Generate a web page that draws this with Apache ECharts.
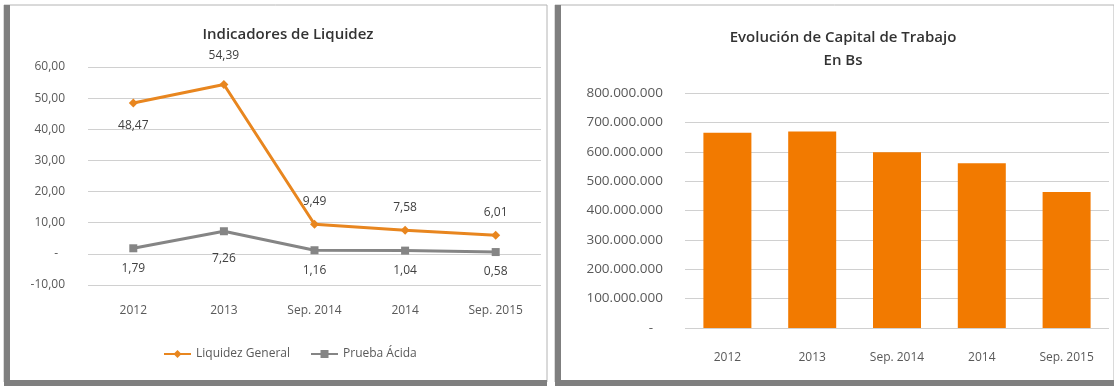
<!DOCTYPE html>
<html>
<head>
<meta charset="utf-8">
<script src="https://cdn.jsdelivr.net/npm/echarts@6/dist/echarts.min.js"></script>
<style>
  html, body { margin: 0; padding: 0; background: #ffffff; }
  #chart { width: 1114px; height: 386px; }
</style>
</head>
<body>
<div id="chart"></div>
<script>
// Categories shared by both panels
const categories = ['2012', '2013', 'Sep. 2014', '2014', 'Sep. 2015'];

// Liquidity ratios
const liquidezGeneral = [48.47, 54.39, 9.49, 7.58, 6.01];
const pruebaAcida = [1.79, 7.26, 1.16, 1.04, 0.58];

// Working capital in Bs
const capitalTrabajo = [665000000, 669000000, 598000000, 561000000, 463000000];

// Axis ranges
const liquidezAxis = { min: -10, max: 60, step: 10 };
const capitalAxis = { min: 0, max: 800000000, step: 100000000 };

const AXIS_TEXT = '#595959';
const LABEL_TEXT = '#404040';
const GRID_LINE = '#d0d0d0';
const FONT = '"Open Sans", "Liberation Sans", sans-serif';

const fmtDecimal = v => v.toFixed(2).replace('.', ',');
const fmtThousands = v => String(Math.round(v)).replace(/\B(?=(\d{3})+(?!\d))/g, '.');

const chart = echarts.init(document.getElementById('chart'), null, { renderer: 'canvas' });

const panelFrame = (x, w) => [
  { type: 'rect', z: -10, shape: { x: x, y: 5, width: w, height: 377 },
    style: { fill: '#ffffff', stroke: '#b4b4b4', lineWidth: 1 } },
  { type: 'rect', z: -9, shape: { x: x, y: 5, width: 6, height: 381 },
    style: { fill: '#7f7f7f' } },
  { type: 'rect', z: -9, shape: { x: x, y: 380, width: w, height: 6 },
    style: { fill: '#7f7f7f' } }
];

const option = {
  animation: false,
  backgroundColor: '#ffffff',
  textStyle: { fontFamily: FONT },
  graphic: { elements: [...panelFrame(4, 543), ...panelFrame(555, 559)] },
  title: [
    {
      text: 'Indicadores de Liquidez',
      left: 283, top: 22, textAlign: 'center',
      textStyle: { fontFamily: FONT, fontSize: 15, fontWeight: 600, color: '#333333' }
    },
    {
      text: 'Evolución de Capital de Trabajo\nEn Bs',
      left: 838, top: 21, textAlign: 'center',
      textStyle: { fontFamily: FONT, fontSize: 15, fontWeight: 600, color: '#333333', lineHeight: 23 }
    }
  ],
  legend: {
    data: ['Liquidez General', 'Prueba Ácida'],
    left: 158, top: 343,
    itemWidth: 27, itemHeight: 10, itemGap: 20,
    textStyle: { fontFamily: FONT, fontSize: 12, color: AXIS_TEXT }
  },
  grid: [
    { left: 88, top: 67, width: 453, height: 218 },
    { left: 685, top: 93, width: 424, height: 235 }
  ],
  xAxis: [
    {
      gridIndex: 0, type: 'category', data: categories, boundaryGap: true,
      axisLine: { show: false, onZero: false }, axisTick: { show: false },
      axisLabel: { margin: 20, color: AXIS_TEXT, fontSize: 12, fontFamily: FONT }
    },
    {
      gridIndex: 1, type: 'category', data: categories, boundaryGap: true,
      axisLine: { show: false }, axisTick: { show: false },
      axisLabel: { margin: 24, color: AXIS_TEXT, fontSize: 12, fontFamily: FONT }
    }
  ],
  yAxis: [
    {
      gridIndex: 0, type: 'value',
      min: liquidezAxis.min, max: liquidezAxis.max, interval: liquidezAxis.step,
      axisLine: { show: false }, axisTick: { show: false },
      splitLine: { lineStyle: { color: GRID_LINE, width: 1 } },
      axisLabel: {
        margin: 23, color: AXIS_TEXT, fontSize: 12, fontFamily: FONT,
        formatter: v => (v === 0 ? '-\u2007' : fmtDecimal(v))
      }
    },
    {
      gridIndex: 1, type: 'value',
      min: capitalAxis.min, max: capitalAxis.max, interval: capitalAxis.step,
      axisLine: { show: false }, axisTick: { show: false },
      splitLine: { lineStyle: { color: GRID_LINE, width: 1 } },
      axisLabel: {
        margin: 22, color: AXIS_TEXT, fontSize: 13.5, fontFamily: FONT,
        formatter: v => (v === 0 ? '-\u2007\u2009' : fmtThousands(v))
      }
    }
  ],
  series: [
    {
      name: 'Liquidez General', type: 'line', xAxisIndex: 0, yAxisIndex: 0,
      data: liquidezGeneral.map((v, i) => ({
        value: v,
        label: { position: i === 0 ? 'bottom' : 'top', distance: v === Math.max(...liquidezGeneral) ? 18 : 12 }
      })),
      symbol: 'diamond', symbolSize: 9,
      lineStyle: { color: '#E8861F', width: 3 },
      itemStyle: { color: '#E8861F' },
      label: {
        show: true, color: LABEL_TEXT, fontSize: 12, fontFamily: FONT,
        formatter: p => fmtDecimal(p.value)
      },
      z: 3
    },
    {
      name: 'Prueba Ácida', type: 'line', xAxisIndex: 0, yAxisIndex: 0,
      data: pruebaAcida.map(v => ({
        value: v,
        label: { distance: v === Math.max(...pruebaAcida) ? 17 : 10 }
      })),
      symbol: 'rect', symbolSize: 8,
      lineStyle: { color: '#858585', width: 3 },
      itemStyle: { color: '#858585' },
      label: {
        show: true, position: 'bottom', color: LABEL_TEXT, fontSize: 12, fontFamily: FONT,
        formatter: p => fmtDecimal(p.value)
      },
      z: 3
    },
    {
      name: 'Capital de Trabajo', type: 'bar', xAxisIndex: 1, yAxisIndex: 1,
      data: capitalTrabajo,
      barWidth: 48,
      itemStyle: { color: '#F27A00' }
    }
  ]
};

chart.setOption(option);
</script>
</body>
</html>
